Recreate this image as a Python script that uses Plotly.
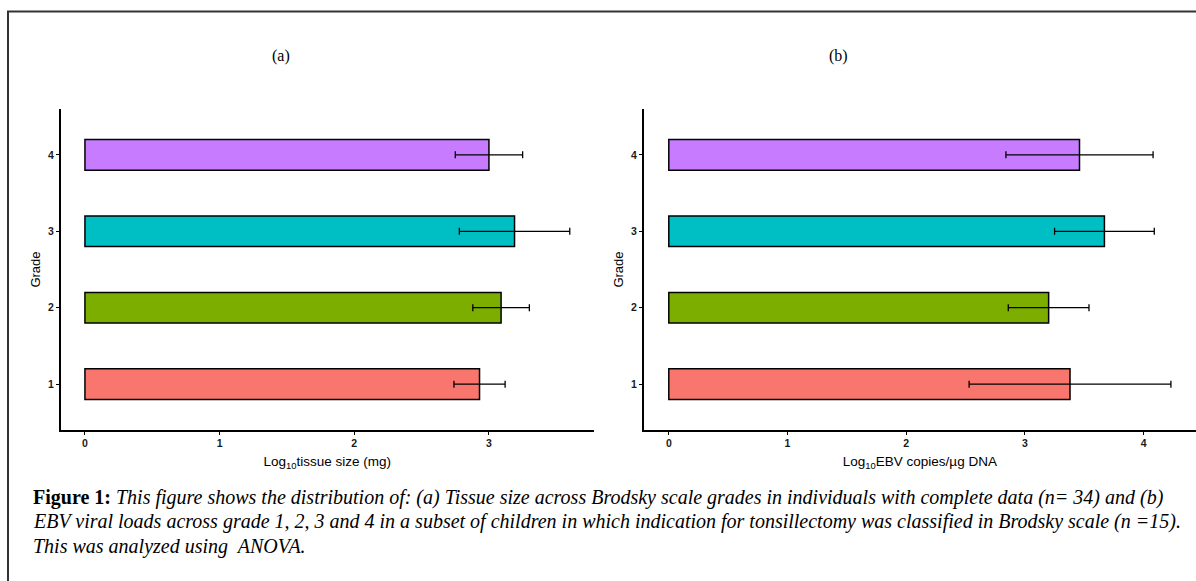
import plotly.graph_objects as go

# ---- data ----
grades = [1, 2, 3, 4]
grade_labels = ["1", "2", "3", "4"]
bar_colors = ["#F8766D", "#7CAE00", "#00BFC4", "#C77CFF"]

tissue_mean = [2.93, 3.09, 3.19, 3.00]   # Log10 tissue size (mg)
tissue_err = [0.19, 0.21, 0.41, 0.25]

ebv_mean = [3.38, 3.20, 3.67, 3.46]      # Log10 EBV copies/µg DNA
ebv_err = [0.85, 0.34, 0.42, 0.62]

panel_titles = ["(a)", "(b)"]
x_titles = ["Log<sub>10</sub>tissue size (mg)", "Log<sub>10</sub>EBV copies/µg DNA"]
y_title = "Grade"
caption_lines = [
    "<b>Figure 1:</b> <i>This figure shows the distribution of: (a) Tissue size across Brodsky scale grades in individuals with complete data (n= 34) and (b)</i>",
    "<i>EBV viral loads across grade 1, 2, 3 and 4 in a subset of children in which indication for tonsillectomy was classified in Brodsky scale (n =15).</i>",
    "<i>This was analyzed using  ANOVA.</i>",
]

W, H = 1196, 581
SANS = "Liberation Sans, Arial, sans-serif"
SERIF = "Liberation Serif, Times New Roman, serif"


def px_x(v):
    return v / W


def px_y(v):
    return 1 - v / H


def expanded(means, errs):
    m = max(a + b for a, b in zip(means, errs))
    return [-0.05 * m, 1.05 * m]


fig = go.Figure()

for i, (means, errs) in enumerate([(tissue_mean, tissue_err), (ebv_mean, ebv_err)]):
    xa = "x" if i == 0 else "x2"
    ya = "y" if i == 0 else "y2"
    fig.add_trace(go.Bar(
        x=means, y=grades, orientation="h", width=0.4,
        marker=dict(color=bar_colors, line=dict(color="black", width=1.5)),
        error_x=dict(type="data", array=errs, visible=True,
                     color="black", thickness=1.3, width=3.5),
        xaxis=xa, yaxis=ya, showlegend=False,
    ))

axis_common = dict(
    showline=True, linecolor="black", linewidth=1.5,
    ticks="outside", ticklen=3, tickwidth=1.2, tickcolor="black",
    showgrid=False, zeroline=False,
    tickfont=dict(family=SANS, size=10.5, color="#1a1a1a", weight="bold"),
)

y_dom = [px_y(430), px_y(109)]
xt_font = dict(family=SANS, size=13.5, color="black")
yt_font = dict(family=SANS, size=13, color="black")

fig.update_layout(
    width=W, height=H,
    margin=dict(l=0, r=0, t=0, b=0),
    paper_bgcolor="white", plot_bgcolor="white",
    xaxis=dict(domain=[px_x(60.7), px_x(594)], range=expanded(tissue_mean, tissue_err),
               tickvals=[0, 1, 2, 3], anchor="y",
               title=dict(text=x_titles[0], font=xt_font, standoff=8),
               **axis_common),
    yaxis=dict(domain=y_dom, range=[0.4, 4.6], tickvals=grades, ticktext=grade_labels, anchor="x",
               title=dict(text=y_title, font=yt_font, standoff=4),
               **axis_common),
    xaxis2=dict(domain=[px_x(643.7), 1.0], range=expanded(ebv_mean, ebv_err),
                tickvals=[0, 1, 2, 3, 4], anchor="y2",
                title=dict(text=x_titles[1], font=xt_font, standoff=8),
                **axis_common),
    yaxis2=dict(domain=y_dom, range=[0.4, 4.6], tickvals=grades, ticktext=grade_labels, anchor="x2",
                title=dict(text=y_title, font=yt_font, standoff=4),
                **axis_common),
)

# panel titles
for t, xc in zip(panel_titles, [281, 838]):
    fig.add_annotation(text=t, xref="paper", yref="paper", x=px_x(xc), y=px_y(56),
                       xanchor="center", yanchor="middle", showarrow=False,
                       font=dict(family=SERIF, size=16, color="black"))

# caption
for line, yc in zip(caption_lines, [497, 521.5, 546]):
    fig.add_annotation(text=line, xref="paper", yref="paper", x=px_x(31), y=px_y(yc),
                       xanchor="left", yanchor="middle", showarrow=False, align="left",
                       font=dict(family=SERIF, size=20, color="black"))

# outer frame
fig.add_shape(type="rect", xref="paper", yref="paper",
              x0=px_x(8), y0=-0.05, x1=1.05, y1=px_y(11.5),
              line=dict(color="#333333", width=2), fillcolor="rgba(0,0,0,0)", layer="above")

fig.write_html("out.html", config={"displayModeBar": False},
               post_script="document.body.style.margin='0';")
